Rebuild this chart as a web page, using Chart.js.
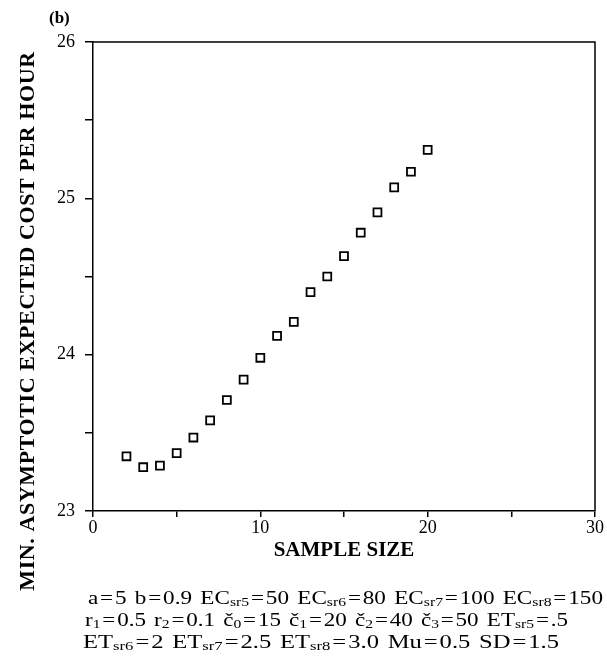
<!DOCTYPE html>
<html>
<head>
<meta charset="utf-8">
<script src="https://cdn.jsdelivr.net/npm/chart.js"></script>
<style>
  html, body { margin: 0; padding: 0; background: #fff; }
  #wrap { position: relative; width: 607px; height: 659px; overflow: hidden; }
  #chart1 { position: absolute; left: 0; top: 0; }
  .note {
    position: absolute; display: inline-block; transform-origin: 0 50%;
    font-family: "Liberation Serif", "Times New Roman", serif;
    font-size: 19px; line-height: 21px; color: #000; white-space: nowrap;
    word-spacing: 2px;
  }
  .note sub { font-size: 0.68em; vertical-align: -0.12em; line-height: 0; }
  .note b { font-weight: normal; margin: 0 1.5px; }
</style>
</head>
<body>
<div id="wrap">
  <canvas id="chart1" width="607" height="659"></canvas>
  <div class="note" style="left:88px; top:587px">a<b>=</b>5 b<b>=</b>0.9 EC<sub>sr5</sub><b>=</b>50 EC<sub>sr6</sub><b>=</b>80 EC<sub>sr7</sub><b>=</b>100 EC<sub>sr8</sub><b>=</b>150</div>
  <div class="note" style="left:85px; top:609px">r<sub>1</sub><b>=</b>0.5 r<sub>2</sub><b>=</b>0.1 č<sub>0</sub><b>=</b>15 č<sub>1</sub><b>=</b>20 č<sub>2</sub><b>=</b>40 č<sub>3</sub><b>=</b>50 ET<sub>sr5</sub><b>=</b>.5</div>
  <div class="note" style="left:83px; top:631px">ET<sub>sr6</sub><b>=</b>2 ET<sub>sr7</sub><b>=</b>2.5 ET<sub>sr8</sub><b>=</b>3.0 Mu<b>=</b>0.5 SD<b>=</b>1.5</div>
</div>
<script>
// sample size n and the minimum asymptotic expected cost per hour
const sampleSize = [2, 3, 4, 5, 6, 7, 8, 9, 10, 11, 12, 13, 14, 15, 16, 17, 18, 19, 20];
const minCost = [23.35, 23.28, 23.29, 23.37, 23.47, 23.58, 23.71, 23.84, 23.98, 24.12,
                 24.21, 24.40, 24.50, 24.63, 24.78, 24.91, 25.07, 25.17, 25.31];
const panelLabel = "(b)";
const xTitle = "SAMPLE SIZE";
const yTitle = "MIN. ASYMPTOTIC EXPECTED COST PER HOUR";
// printed widths of the three parameter lines (the scan's type is set wide)
const noteWidths = [515, 483, 476];

const serif = '"Liberation Serif", "Times New Roman", serif';

// box round the plot, rotated y title and panel label
let framePlugin = {
  id: "frame",
  afterDraw: (chart) => {
    const ctx = chart.ctx;
    const a = chart.chartArea;
    ctx.save();
    ctx.strokeStyle = "#000";
    ctx.lineWidth = 1.5;
    ctx.beginPath();
    ctx.moveTo(a.left, a.top);
    ctx.lineTo(a.right, a.top);
    ctx.lineTo(a.right, a.bottom);
    ctx.stroke();

    ctx.fillStyle = "#000";
    ctx.font = "bold 17px " + serif;
    ctx.textAlign = "left";
    ctx.textBaseline = "middle";
    ctx.fillText(panelLabel, 49, 19);

    ctx.font = "bold 22px " + serif;
    ctx.letterSpacing = "0.6px";
    ctx.textAlign = "center";
    ctx.translate(28, 321);
    ctx.rotate(-Math.PI / 2);
    ctx.fillText(yTitle, 0, 0);
    ctx.restore();
  }
};

let plot = () => {
  const ctx = document.getElementById("chart1");
  const dataset = {
    datasets: [
      {
        data: sampleSize.map((n, i) => ({ x: n, y: minCost[i] })),
        showLine: false,
        pointStyle: "rect",
        pointRadius: 5.6,
        pointBorderWidth: 1.8,
        pointBorderColor: "#000",
        pointBackgroundColor: "#fff",
      },
    ],
  };
  const config = {
    type: "scatter",
    data: dataset,
    options: {
      responsive: false,
      animation: false,
      layout: { padding: { left: 0, top: 42, right: 12, bottom: 79 } },
      plugins: { legend: { display: false }, tooltip: { enabled: false } },
      scales: {
        x: {
          min: 0, max: 30,
          afterFit: (s) => { s.height = 69; },
          border: { color: "#000", width: 1.5 },
          grid: { drawOnChartArea: false, color: "#000", tickLength: 6, lineWidth: 1.5 },
          ticks: {
            stepSize: 5, padding: 0, color: "#000", maxRotation: 0,
            font: { family: serif, size: 18 },
            callback: (v) => (v % 10 === 0 ? v : ""),
          },
          title: {
            display: true, text: xTitle, color: "#000",
            font: { family: serif, size: 21, weight: "bold" },
            padding: { top: 0, bottom: 17 },
          },
        },
        y: {
          min: 23, max: 26,
          afterFit: (s) => { s.width = 93; },
          border: { color: "#000", width: 1.5 },
          grid: { drawOnChartArea: false, color: "#000", tickLength: 8, lineWidth: 1.5 },
          ticks: {
            stepSize: 0.5, padding: 10, color: "#000",
            font: { family: serif, size: 18 },
            callback: (v) => (Number.isInteger(v) ? v : ""),
          },
        },
      },
    },
    plugins: [framePlugin],
  };
  const chart = new Chart(ctx, config);
};

let fitNotes = () => {
  document.querySelectorAll(".note").forEach((el, i) => {
    const w = el.getBoundingClientRect().width;
    el.style.transform = "scaleX(" + (noteWidths[i] / w) + ")";
  });
};

plot();
fitNotes();
</script>
</body>
</html>
